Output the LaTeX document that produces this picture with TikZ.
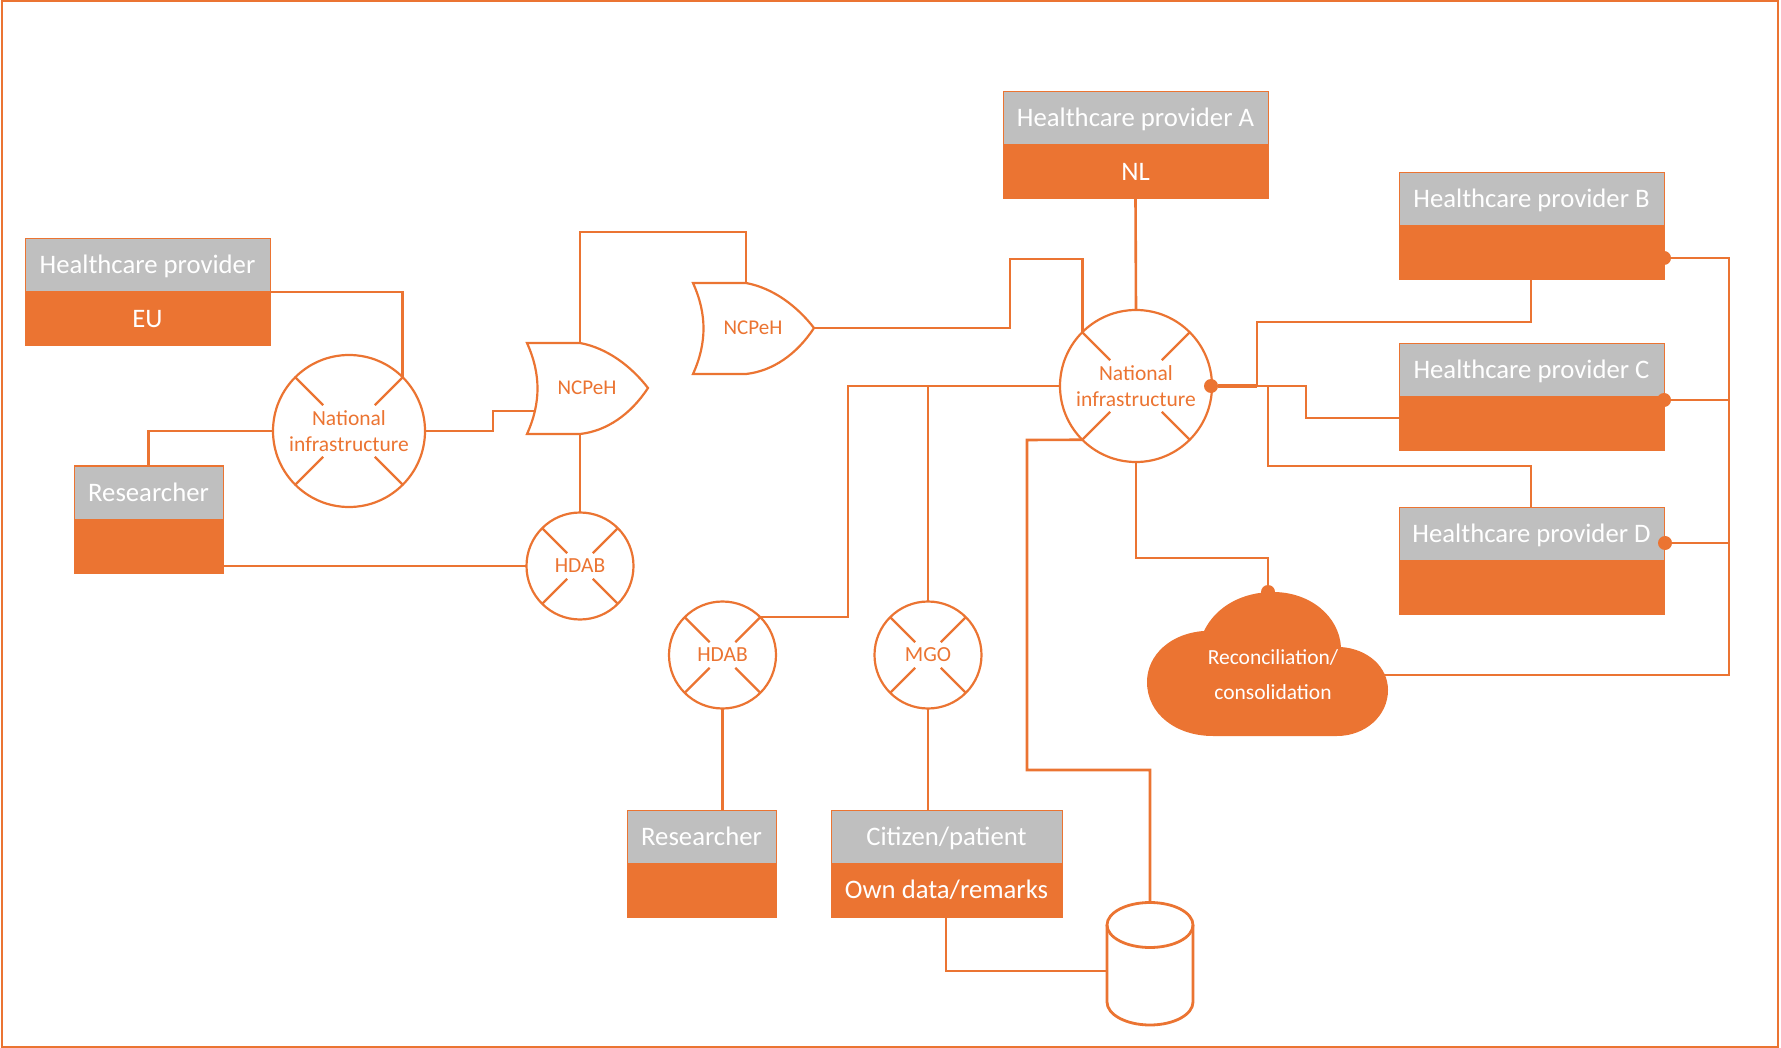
\documentclass[tikz,border=0pt]{standalone}
\usepackage{fontspec}
\setmainfont{Carlito}
\usetikzlibrary{calc}
\definecolor{org}{HTML}{EB7432}
\definecolor{gry}{HTML}{BFBFBF}
\tikzset{
 wire/.style={draw=org,line width=2.6pt,line join=miter},
 hdr/.style={draw=org,line width=1pt,fill=gry,text=white,inner sep=0pt,outer sep=0pt,anchor=north west,text height=17pt,text depth=0pt,font=\fontsize{26.7}{28}\selectfont},
 bdy/.style={draw=org,line width=1pt,fill=org,text=white,inner sep=0pt,outer sep=0pt,anchor=north west,text height=17pt,text depth=0pt,font=\fontsize{26.7}{28}\selectfont},
 xcirc/.style={circle,draw=org,line width=2.2pt,inner sep=0pt,outer sep=0pt,text=org,align=center,font=\fontsize{21.5}{26}\selectfont},
 gatetext/.style={text=org,inner sep=0pt,text height=13.5pt,text depth=0pt,font=\fontsize{21}{26}\selectfont},
 dotn/.style={circle,fill=org,inner sep=0pt,outer sep=0pt,minimum size=14pt},
}
\newcommand{\provbox}[6]{%
 \node[hdr,minimum width=#4pt,minimum height=53pt] (#1H) at (#2,#3) {#5};
 \node[bdy,minimum width=#4pt,minimum height=54pt] (#1B) at (#2,#3+53) {#6};
}
\newcommand{\xnode}[6][0.48]{%
 \node[xcirc,minimum size=#5*2 pt] (#2) at (#3,#4) {#6};
 \foreach \ang in {45,135,225,315}
  \draw[org,line width=2.2pt,line cap=butt] (#2.\ang) -- ($(#2.center)!#1!(#2.\ang)$);
}
\newcommand{\orgate}[5]{%
 \draw[org,line width=2.2pt,line join=miter,fill=white]
  (#2,#3) -- (#2+53,#3) .. controls (#2+80,#3+5) and (#2+104,#3+23) .. (#2+121,#3+45)
  .. controls (#2+104,#3+71) and (#2+80,#3+88) .. (#2+53,#3+91) -- (#2,#3+91)
  .. controls (#2+14,#3+60) and (#2+14,#3+31) .. cycle;
 \coordinate (#1N) at (#2+53,#3);
 \coordinate (#1S) at (#2+53,#3+91);
 \coordinate (#1T) at (#2+121,#3+45);
 \node[gatetext] (#1) at (#4,#3+45) {#5};
}
\begin{document}
\begin{tikzpicture}[x=1pt,y=-1pt]
\useasboundingbox (0,0) rectangle (1781,1048);
\node[draw=org,line width=2.2pt,inner sep=0pt,outer sep=0pt,minimum width=1776pt,minimum height=1046pt,anchor=north west] (frame) at (2,1) {};
% boxes
\provbox{hpEU}{25}{239}{245}{Healthcare provider}{EU}
\provbox{resL}{74}{466}{149}{Researcher}{}
\provbox{hpA}{1003}{92}{265}{Healthcare provider A}{NL}
\provbox{hpB}{1399}{173}{265}{Healthcare provider B}{}
\provbox{hpC}{1399}{344}{265}{Healthcare provider C}{}
\provbox{hpD}{1399}{507}{265}{Healthcare provider D}{}
\provbox{resB}{627}{810}{149}{Researcher}{}
\provbox{cit}{831}{810}{231}{Citizen/patient}{Own data/remarks}
% circles
\xnode{natL}{349}{431}{76}{National\\infrastructure}
\xnode{natR}{1136}{386}{76}{National\\infrastructure}
\xnode[0.34]{hdabL}{580}{566}{53.5}{\raisebox{-1.5pt}{HDAB}}
\xnode[0.34]{hdabB}{722.5}{655}{53.5}{\raisebox{-1.5pt}{HDAB}}
\xnode[0.34]{mgo}{928}{655}{53.5}{\raisebox{-1.5pt}{MGO}}
% gates
\orgate{gateA}{527}{343}{587}{NCPeH}
\orgate{gateB}{693}{283}{753}{NCPeH}
% cloud
\fill[org] (1213,736) .. controls (1176,736) and (1147,714) .. (1147,682)
 .. controls (1147,654) and (1172,633) .. (1204,631)
 .. controls (1216,606) and (1243,592) .. (1273,592)
 .. controls (1310,592) and (1339,616) .. (1341,647)
 .. controls (1368,649) and (1388,667) .. (1388,690)
 .. controls (1388,716) and (1365,736) .. (1337,736) -- cycle;
\node[text=white,inner sep=0pt,align=center,font=\fontsize{21.5}{35}\selectfont] (cloud) at (1273,675) {Reconciliation/\\consolidation};
\coordinate (cloudR) at (1383,675);
% cylinder
\draw[org,line width=2.8pt,fill=white] (1107,925) -- (1107,1002) arc[start angle=180,end angle=0,x radius=43,y radius=23] -- (1193,925);
\draw[org,line width=2.8pt] (1150,925) ellipse[x radius=43,y radius=22.5];
\coordinate (cylN) at (1150,902.5);
\coordinate (cylW) at (1107,971);
% dots
\node[dotn] (dotR) at (1211,386) {};
\node[dotn] (dotCl) at (1268,592) {};
\node[dotn] (dotB) at (1664,258) {};
\node[dotn] (dotC) at (1664,400) {};
\node[dotn] (dotD) at (1665,543) {};
% connectors
\draw[wire] (hpEUH.south east) -| (natL.45);
\draw[wire] (resLH.north) |- (natL.west);
\draw[wire] (natL.east) -- (493,431) |- (535,411);
\draw[wire] (gateAN) -- (580,232) -| (gateBN);
\draw[wire] (gateAS) -- (hdabL.north);
\draw[wire] (resLB.east |- hdabL.west) -- (hdabL.west);
\draw[wire] (gateBT) -| (1010,259) -| (natR.135);
\draw[wire] (hpAB.south) -- (natR.north);
\draw[wire] (hdabB.45) -| (848,386) -- (natR.west);
\draw[wire] (mgo.north) -- (928,386);
\draw[wire] (mgo.south) -- (citH.north -| mgo.south);
\draw[wire] (hdabB.south) -- (resBH.north -| hdabB.south);
\draw[wire] (cylN) -- (1150,770) -| (1027,440) -- (natR.225);
\draw[wire] (citB.south -| 946,0) |- (cylW);
\draw[wire] (natR.south) |- (1268,558) -- (dotCl);
\draw[wire] (dotR) -- (1306,386) |- (hpCB.west |- 0,418);
\draw[line width=3.4pt,org] (dotR) -- (1257,386);
\draw[wire] (1257,386) |- (1531,322) -- (hpBB.south -| 1531,0);
\draw[wire] (1268,386) |- (1531,466) -- (hpDH.north -| 1531,0);
\draw[wire] (dotB) -| (1729,675) -- (cloudR);
\draw[wire] (dotC) -- (1729,400);
\draw[wire] (dotD) -- (1729,543);
\end{tikzpicture}
\end{document}
